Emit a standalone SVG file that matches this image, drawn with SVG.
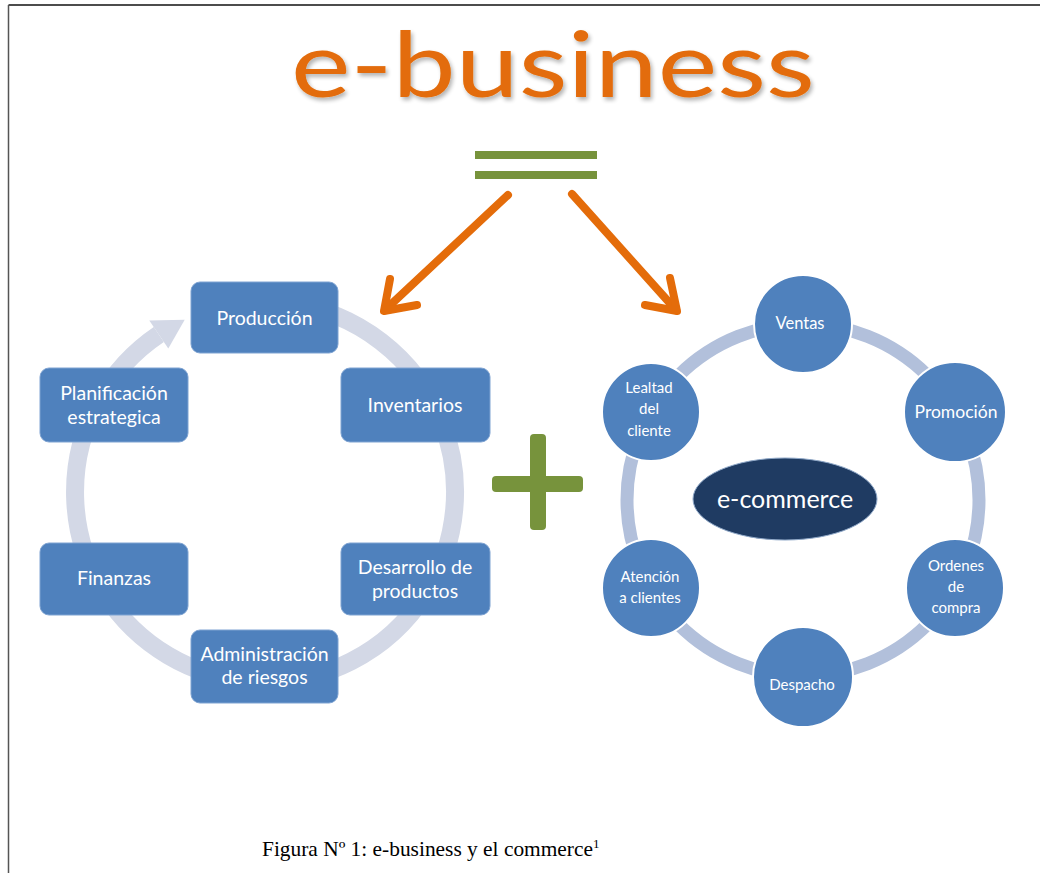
<svg xmlns="http://www.w3.org/2000/svg" width="1040" height="873" viewBox="0 0 1040 873">
  <defs>
    <filter id="shadow" filterUnits="userSpaceOnUse" x="250" y="0" width="620" height="140">
      <feGaussianBlur in="SourceAlpha" stdDeviation="2"/>
      <feOffset dx="2" dy="3" result="o"/>
      <feComponentTransfer><feFuncA type="linear" slope="0.3"/></feComponentTransfer>
      <feMerge><feMergeNode/><feMergeNode in="SourceGraphic"/></feMerge>
    </filter>
  </defs>
  <style>
    .box { fill: #4F81BD; stroke: #7EA3D2; stroke-width: 1; }
    .circ { fill: #4F81BD; stroke: #FFFFFF; stroke-width: 2; }
    .lbl { font-family: Lato, "Open Sans", sans-serif; fill: #FFFFFF; text-anchor: middle; }
    .bl { font-size: 19.5px; }
    .cl { font-size: 15px; }
    .orange { stroke: #E46C0A; stroke-width: 8; fill: none; stroke-linecap: round; stroke-linejoin: round; }
    .green { fill: #77933C; }
  </style>
  <rect width="1040" height="873" fill="#FFFFFF"/>
  <!-- page border -->
  <line x1="8.5" y1="5" x2="1040" y2="5" stroke="#111" stroke-width="1.5"/>
  <line x1="8.5" y1="5" x2="8.5" y2="873" stroke="#555" stroke-width="1.5"/>

  <!-- title -->
  <g id="title">
    <text x="553" y="97" font-family="Lato, 'Open Sans', sans-serif" font-size="92" fill="#E36C09" text-anchor="middle" textLength="524" lengthAdjust="spacingAndGlyphs" filter="url(#shadow)">e-business</text>
  </g>
  <!-- equals sign -->
  <g id="equals" class="green">
    <rect x="475" y="151" width="122" height="8"/>
    <rect x="475" y="171" width="122" height="8"/>
  </g>

  <!-- connectors -->
  <g id="connectors">
    <line class="orange" x1="508" y1="195" x2="385" y2="310"/>
    <polyline class="orange" points="390,279 384,311 417,305"/>
    <line class="orange" x1="572" y1="194" x2="676" y2="310"/>
    <polyline class="orange" points="670,278 677,311 645,305"/>
    <!-- left cycle ring -->
    <path d="M 200 313.5 A 190 190 0 1 1 158.8 334.5" fill="none" stroke="#D3D8E6" stroke-width="18"/>
    <polygon points="149.3,320.4 168.3,348.6 184.7,319.8" fill="#D3D8E6"/>
    <!-- right cycle ring -->
    <circle cx="803" cy="500" r="176" fill="none" stroke="#B2C0DB" stroke-width="13"/>
  </g>

  <!-- left cycle nodes -->
  <g id="produccion">
    <rect class="box" x="191" y="282" width="147" height="71" rx="9"/>
    <text class="lbl bl" x="264.5" y="325">Producción</text>
  </g>
  <g id="inventarios">
    <rect class="box" x="341" y="368" width="149" height="74" rx="9"/>
    <text class="lbl bl" x="415" y="412">Inventarios</text>
  </g>
  <g id="desarrollo">
    <rect class="box" x="341" y="543" width="149" height="72" rx="9"/>
    <text class="lbl bl" x="415" y="574">Desarrollo de</text>
    <text class="lbl bl" x="415" y="598">productos</text>
  </g>
  <g id="administracion">
    <rect class="box" x="191" y="630" width="147" height="73" rx="9"/>
    <text class="lbl bl" x="264.5" y="661">Administración</text>
    <text class="lbl bl" x="264.5" y="684">de riesgos</text>
  </g>
  <g id="finanzas">
    <rect class="box" x="40" y="543" width="148" height="72" rx="9"/>
    <text class="lbl bl" x="114" y="585">Finanzas</text>
  </g>
  <g id="planificacion">
    <rect class="box" x="40" y="368" width="148" height="74" rx="9"/>
    <text class="lbl bl" x="114" y="400">Planificación</text>
    <text class="lbl bl" x="114" y="424">estrategica</text>
  </g>

  <!-- plus sign -->
  <g id="plus">
    <rect class="green" x="530" y="434" width="16" height="96" rx="4"/>
    <rect class="green" x="492" y="476" width="91" height="16" rx="4"/>
  </g>

  <!-- right cycle nodes -->
  <g id="ventas">
    <circle class="circ" cx="803" cy="324" r="49"/>
    <text class="lbl" x="800" y="329" font-size="16.5">Ventas</text>
  </g>
  <g id="promocion">
    <ellipse class="circ" cx="955" cy="412" rx="51" ry="50"/>
    <text class="lbl" x="956" y="418" font-size="17.5">Promoción</text>
  </g>
  <g id="ordenes">
    <circle class="circ" cx="955" cy="588" r="49"/>
    <text class="lbl cl" x="956" y="571">Ordenes</text>
    <text class="lbl cl" x="956" y="592">de</text>
    <text class="lbl cl" x="956" y="613">compra</text>
  </g>
  <g id="despacho">
    <circle class="circ" cx="803" cy="677" r="50"/>
    <text class="lbl cl" x="802" y="690">Despacho</text>
  </g>
  <g id="atencion">
    <circle class="circ" cx="651" cy="588" r="49"/>
    <text class="lbl cl" x="650" y="582">Atención</text>
    <text class="lbl cl" x="650" y="603">a clientes</text>
  </g>
  <g id="lealtad">
    <circle class="circ" cx="651" cy="412" r="49"/>
    <text class="lbl cl" x="649" y="393">Lealtad</text>
    <text class="lbl cl" x="649" y="414">del</text>
    <text class="lbl cl" x="649" y="436">cliente</text>
  </g>
  <g id="ecommerce">
    <ellipse cx="785" cy="499" rx="92" ry="41" fill="#1F3B62" stroke="#8FA8C8" stroke-width="1"/>
    <text class="lbl" x="785" y="508" font-size="25">e-commerce</text>
  </g>

  <!-- caption -->
  <g id="caption">
    <text x="262" y="856" font-family="'Liberation Serif', 'Times New Roman', serif" font-size="21.4" fill="#000">Figura Nº 1: e-business y el commerce<tspan font-size="13" dy="-8">1</tspan></text>
  </g>
</svg>
